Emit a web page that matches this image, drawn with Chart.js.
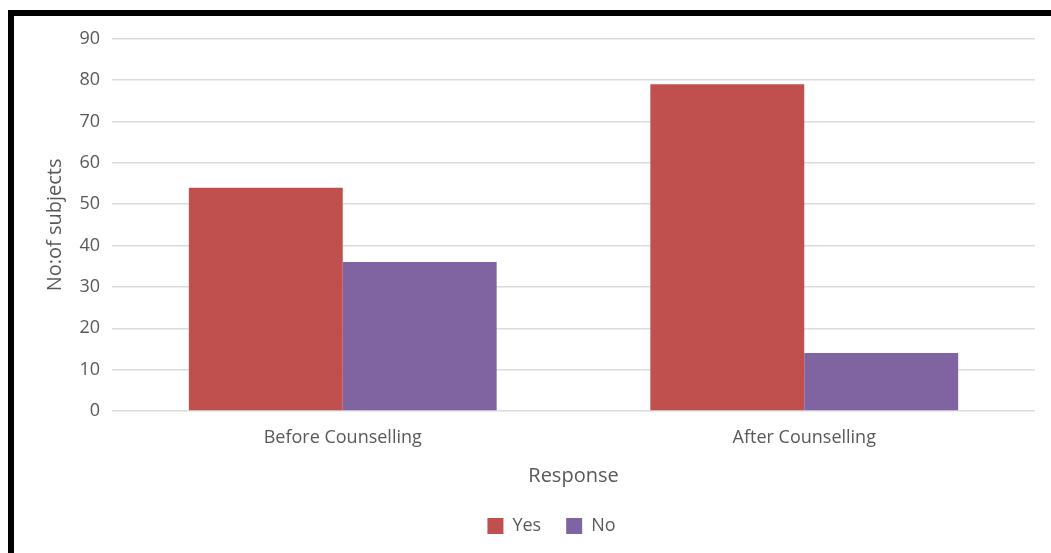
<!DOCTYPE html>
<html>
<head>
<meta charset="utf-8">
<script src="https://cdn.jsdelivr.net/npm/chart.js@4/dist/chart.umd.min.js"></script>
<style>
  html, body { margin: 0; padding: 0; background: #fff; overflow: hidden; }
  #frame {
    position: absolute; left: 8px; top: 10px;
    width: 1043px; height: 543px;
    border-left: 6px solid #000; border-top: 6px solid #000;
    background: #fff;
  }
  #responseChart { display: block; }
</style>
</head>
<body>
<div id="frame">
  <canvas id="responseChart" width="1037" height="537"></canvas>
</div>
<script>
// Values
const categories = ["Before Counselling", "After Counselling"];
const yesValues = [54, 79];
const noValues = [36, 14];
const seriesNames = ["Yes", "No"];
const yTicks = { min: 0, max: 90, step: 10 };

document.addEventListener("DOMContentLoaded", function () {
  const ctx = document.getElementById("responseChart").getContext("2d");

  new Chart(ctx, {
    type: "bar",
    data: {
      labels: categories,
      datasets: [
        {
          label: seriesNames[0],
          data: yesValues,
          backgroundColor: "#c0504d",
          borderWidth: 0,
          categoryPercentage: 0.667,
          barPercentage: 1.0,
        },
        {
          label: seriesNames[1],
          data: noValues,
          backgroundColor: "#8064a2",
          borderWidth: 0,
          categoryPercentage: 0.667,
          barPercentage: 1.0,
        },
      ],
    },
    options: {
      responsive: false,
      animation: false,
      layout: {
        // left padding keeps the legend centred where the reference has it
        padding: { left: 54, right: 16, top: 21, bottom: 8 },
      },
      plugins: {
        tooltip: { enabled: false },
        legend: {
          position: "bottom",
          labels: {
            boxWidth: 16,
            boxHeight: 16,
            padding: 25,
            color: "#595959",
            font: { family: "Open Sans", size: 18 },
          },
        },
      },
      scales: {
        x: {
          grid: { display: false },
          border: { display: false },
          ticks: {
            padding: 8,
            color: "#595959",
            font: { family: "Open Sans", size: 18 },
          },
          title: {
            display: true,
            text: "Response",
            color: "#595959",
            font: { family: "Open Sans", size: 20 },
            padding: { top: 0, bottom: 4 },
          },
          afterFit: (scale) => { scale.height = 81; },
        },
        y: {
          min: yTicks.min,
          max: yTicks.max,
          grid: { color: "#dcdcdc", lineWidth: 1.5, drawTicks: false },
          border: { display: false },
          ticks: {
            stepSize: yTicks.step,
            padding: 12,
            color: "#595959",
            font: { family: "Open Sans", size: 18 },
          },
          title: {
            display: true,
            text: "No:of subjects",
            color: "#595959",
            font: { family: "Open Sans", size: 20 },
            padding: { top: -25, bottom: 0 },
          },
          afterFit: (scale) => { scale.width = 44; },
        },
      },
    },
  });
});
</script>
</body>
</html>
